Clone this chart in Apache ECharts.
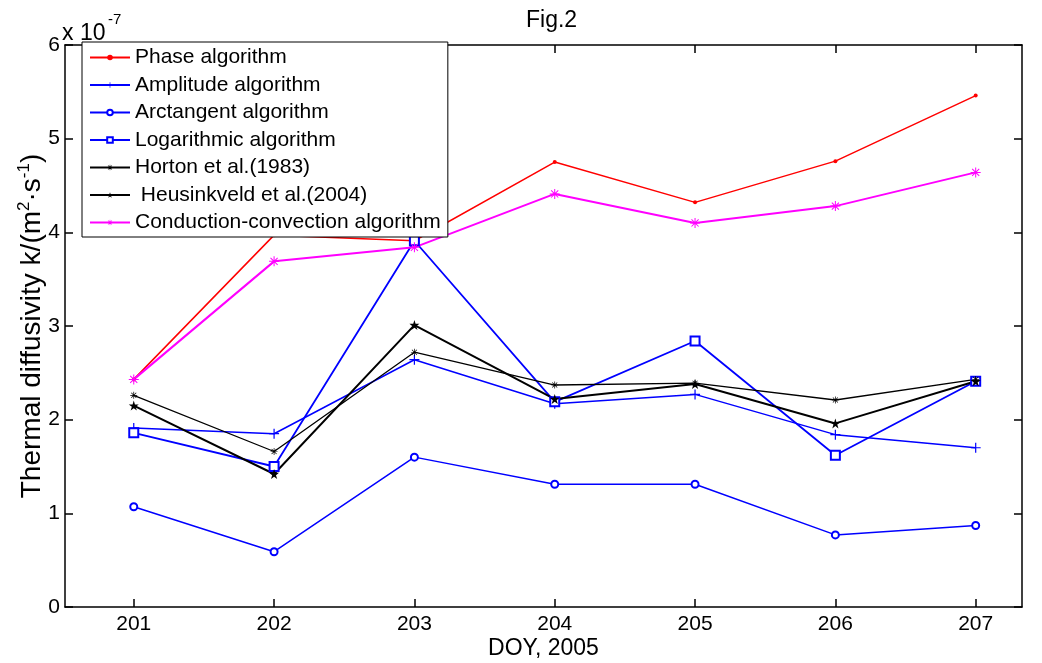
<!DOCTYPE html>
<html>
<head>
<meta charset="utf-8">
<script src="https://cdn.jsdelivr.net/npm/echarts@6/dist/echarts.min.js"></script>
<style>
html,body{margin:0;padding:0;background:#fff;}
#chart{width:1042px;height:663px;}
</style>
</head>
<body>
<div id="chart"></div>
<script>
// ---- data (values in units of 1e-7 m^2/s) ----
var days = [201, 202, 203, 204, 205, 206, 207];
var yTicks = [0, 1, 2, 3, 4, 5, 6];
var phase       = [2.43, 3.97, 3.91, 4.75, 4.32, 4.76, 5.46];
var amplitude   = [1.91, 1.85, 2.64, 2.17, 2.27, 1.84, 1.70];
var arctangent  = [1.07, 0.59, 1.60, 1.31, 1.31, 0.77, 0.87];
var logarithmic = [1.86, 1.50, 3.91, 2.19, 2.84, 1.62, 2.41];
var horton      = [2.26, 1.66, 2.72, 2.37, 2.39, 2.21, 2.43];
var heusinkveld = [2.15, 1.42, 3.01, 2.22, 2.38, 1.96, 2.41];
var conduction  = [2.43, 3.69, 3.84, 4.41, 4.10, 4.28, 4.64];
var names = ['Phase algorithm', 'Amplitude algorithm', 'Arctangent algorithm',
  'Logarithmic algorithm', 'Horton et al.(1983)', ' Heusinkveld et al.(2004)',
  'Conduction-convection algorithm'];

function pairs(arr) { return days.map(function (d, i) { return [d, arr[i]]; }); }

var FONT = 'Liberation Sans, Arial, sans-serif';
var PLUS = 'path://M4.4,0H5.6V4.4H10V5.6H5.6V10H4.4V5.6H0V4.4H4.4Z';
var AST = 'path://M4.5,0H5.5V10H4.5Z M0,4.5H10V5.5H0Z M1.1,1.8L1.8,1.1L8.9,8.2L8.2,8.9Z M8.2,1.1L8.9,1.8L1.8,8.9L1.1,8.2Z';
var STAR = 'path://M5,0L6.18,3.62L10,3.62L6.91,5.86L8.09,9.51L5,7.27L1.91,9.51L3.09,5.86L0,3.62L3.82,3.62Z';

function mk(name, data, color, width, symbol, size, empty) {
  return {
    name: name, type: 'line', xAxisIndex: 0, yAxisIndex: 0,
    data: pairs(data), symbol: symbol, symbolSize: size, showSymbol: true,
    lineStyle: { color: color, width: width },
    itemStyle: empty ? { color: color, borderColor: color, borderWidth: 1.3 } : { color: color, borderWidth: 0 },
    emphasis: { disabled: true }, animation: false, z: 2
  };
}

var axisLineStyle = { color: '#000', width: 1.5 };
var chart = echarts.init(document.getElementById('chart'), null, { renderer: 'canvas' });
chart.setOption({
  backgroundColor: '#fff',
  animation: false,
  textStyle: { fontFamily: FONT },
  grid: { left: 65, right: 20, top: 45, bottom: 56, containLabel: false, outerBoundsMode: 'none' },
  graphic: [
    { type: 'text', left: 526, top: 9, style: { text: 'Fig.2', fontSize: 23, fontFamily: FONT, fill: '#000' } },
    { type: 'text', left: 62, top: 22, style: { text: 'x 10', fontSize: 23, fontFamily: FONT, fill: '#000' } },
    { type: 'text', left: 108, top: 12, style: { text: '-7', fontSize: 15, fontFamily: FONT, fill: '#000' } }
  ],
  legend: {
    orient: 'vertical', left: 82, top: 42,
    data: names, selectedMode: false,
    itemWidth: 40, itemHeight: 7, itemGap: 6.5,
    padding: [5, 7, 4, 7],
    backgroundColor: '#fff', borderColor: '#000', borderWidth: 1,
    textStyle: { fontSize: 21, color: '#000', fontFamily: FONT }
  },
  xAxis: [{
    type: 'value', min: 200.51, max: 207.33, position: 'bottom',
    axisLine: { show: true, onZero: false, lineStyle: axisLineStyle },
    axisTick: { show: true, inside: true, length: 8, lineStyle: axisLineStyle, customValues: days },
    axisLabel: { show: true, customValues: days, fontSize: 21, color: '#000', margin: 7, fontFamily: FONT },
    splitLine: { show: false },
    name: 'DOY, 2005', nameLocation: 'middle', nameGap: 30, nameMoveOverlap: false,
    nameTextStyle: { fontSize: 23, color: '#000', fontFamily: FONT }
  }, {
    type: 'value', min: 200.51, max: 207.33, position: 'top',
    axisLine: { show: true, onZero: false, lineStyle: axisLineStyle },
    axisTick: { show: true, inside: true, length: 8, lineStyle: axisLineStyle, customValues: days },
    axisLabel: { show: false }, splitLine: { show: false }
  }],
  yAxis: [{
    type: 'value', min: 0, max: 6, interval: 1, position: 'left',
    axisLine: { show: true, onZero: false, lineStyle: axisLineStyle },
    axisTick: { show: true, inside: true, length: 8, lineStyle: axisLineStyle },
    axisLabel: { show: true, fontSize: 21, color: '#000', margin: 5, fontFamily: FONT,
      customValues: yTicks },
    splitLine: { show: false },
    name: 'Thermal diffusivity k/(m{sup|2}·s{sup|-1})', nameLocation: 'middle', nameGap: 17, nameMoveOverlap: false,
    nameTextStyle: { fontSize: 28, color: '#000', fontFamily: FONT, lineHeight: 32,
      rich: { sup: { fontSize: 17, verticalAlign: 'top', lineHeight: 32, padding: [0, 0, 11, 0], fontFamily: FONT, color: '#000' } } }
  }, {
    type: 'value', min: 0, max: 6, interval: 1, position: 'right',
    axisLine: { show: true, onZero: false, lineStyle: axisLineStyle },
    axisTick: { show: true, inside: true, length: 8, lineStyle: axisLineStyle },
    axisLabel: { show: false }, splitLine: { show: false }
  }],
  series: [
    mk(names[0], phase, '#ff0000', 1.5, 'circle', 4, false),
    mk(names[1], amplitude, '#0000ff', 1.5, PLUS, 10, false),
    mk(names[2], arctangent, '#0000ff', 1.5, 'emptyCircle', 7, true),
    mk(names[3], logarithmic, '#0000ff', 1.8, 'emptyRect', 9, true),
    mk(names[4], horton, '#000000', 1.3, AST, 7, false),
    mk(names[5], heusinkveld, '#000000', 2, STAR, 10, false),
    mk(names[6], conduction, '#ff00ff', 2, AST, 10, false)
  ]
});
</script>
</body>
</html>
